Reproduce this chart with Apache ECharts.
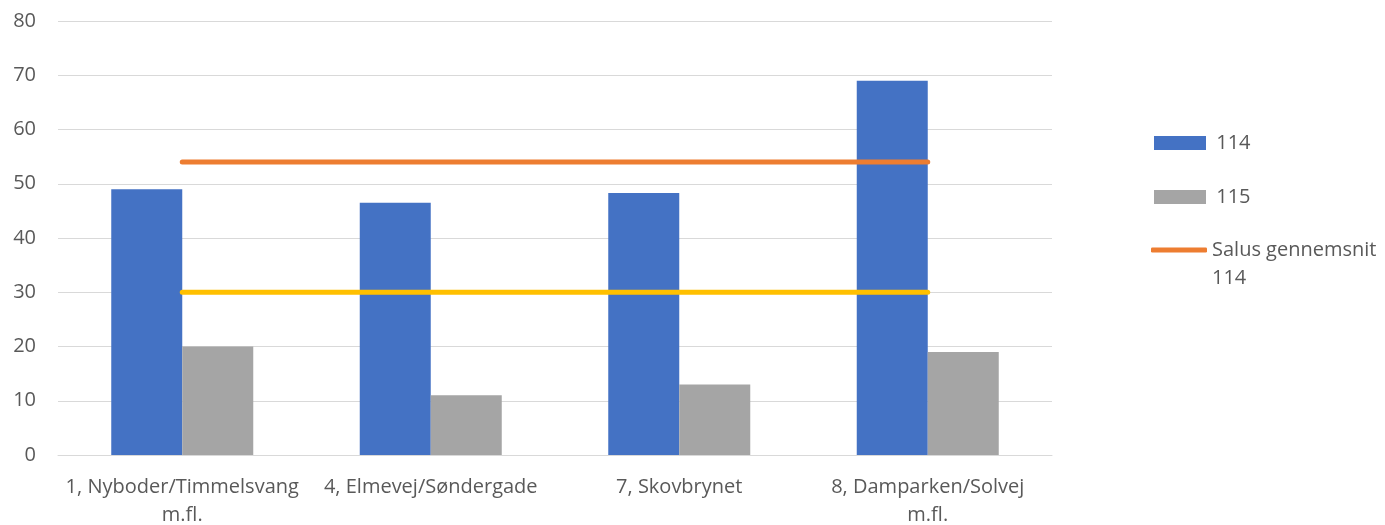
<!DOCTYPE html>
<html>
<head>
<meta charset="utf-8">
<script src="https://cdn.jsdelivr.net/npm/echarts@6/dist/echarts.min.js"></script>
<style>
  html, body { margin: 0; padding: 0; background: #fff; }
  #chart { width: 1385px; height: 525px; }
</style>
</head>
<body>
<div id="chart"></div>
<script>
// areas on the x axis
const categories = ['1, Nyboder/Timmelsvang m.fl.', '4, Elmevej/Søndergade', '7, Skovbrynet', '8, Damparken/Solvej m.fl.']
// bar values
const values114 = [49, 46.5, 48.3, 69]
const values115 = [20, 11, 13, 19]
// average lines
const salus114 = [54, 54, 54, 54]
const salus115 = [30, 30, 30, 30]
const yTicks = { min: 0, max: 80, interval: 10 }

const font = '"Open Sans", "Noto Sans", sans-serif'
const grey = '#595959'

const chart = echarts.init(document.getElementById('chart'))
chart.setOption({
  animation: false,
  textStyle: { fontFamily: font },
  grid: { left: 58, right: 333, top: 21, bottom: 70, outerBoundsMode: 'none' },
  legend: [
    {
      orient: 'vertical',
      left: 1149,
      top: 124,
      itemWidth: 52,
      itemHeight: 14,
      itemGap: 26,
      textStyle: { color: grey, fontSize: 20, lineHeight: 28, fontFamily: font },
      formatter: function(name) {
        return ' ' + name
      },
      data: [{ name: '114', icon: 'rect' }, { name: '115', icon: 'rect' }]
    },
    {
      orient: 'vertical',
      left: 1146,
      top: 203,
      itemWidth: 56,
      itemHeight: 5,
      textStyle: { color: grey, fontSize: 20, lineHeight: 28, fontFamily: font },
      // blank first line so the first text line sits level with the icon
      formatter: function(name) {
        return '\n' + name.replace(' 114', '\n114')
      },
      data: [{ name: 'Salus gennemsnit 114', icon: 'roundRect' }]
    }
  ],
  xAxis: {
    type: 'category',
    data: categories,
    axisTick: { show: false },
    axisLine: { lineStyle: { color: '#d9d9d9', width: 1 } },
    axisLabel: {
      color: grey,
      fontSize: 20,
      lineHeight: 28,
      margin: 18,
      interval: 0,
      formatter: function(v) {
        return v.replace(' m.fl.', '\nm.fl.')
      }
    }
  },
  yAxis: {
    type: 'value',
    min: yTicks.min,
    max: yTicks.max,
    interval: yTicks.interval,
    axisLine: { show: false },
    axisTick: { show: false },
    splitLine: { lineStyle: { color: '#d9d9d9', width: 1 } },
    axisLabel: { color: grey, fontSize: 20, margin: 22 }
  },
  series: [
    {
      name: '114',
      type: 'bar',
      data: values114,
      barWidth: 71,
      barGap: '0%',
      itemStyle: { color: '#4472C4' }
    },
    {
      name: '115',
      type: 'bar',
      data: values115,
      barWidth: 71,
      itemStyle: { color: '#A5A5A5' }
    },
    {
      name: 'Salus gennemsnit 114',
      type: 'line',
      data: salus114,
      symbol: 'none',
      color: '#ED7D31',
      lineStyle: { color: '#ED7D31', width: 5, cap: 'round' }
    },
    {
      name: 'Salus gennemsnit 115',
      type: 'line',
      data: salus115,
      symbol: 'none',
      color: '#FFC000',
      lineStyle: { color: '#FFC000', width: 5, cap: 'round' }
    }
  ]
})
</script>
</body>
</html>
